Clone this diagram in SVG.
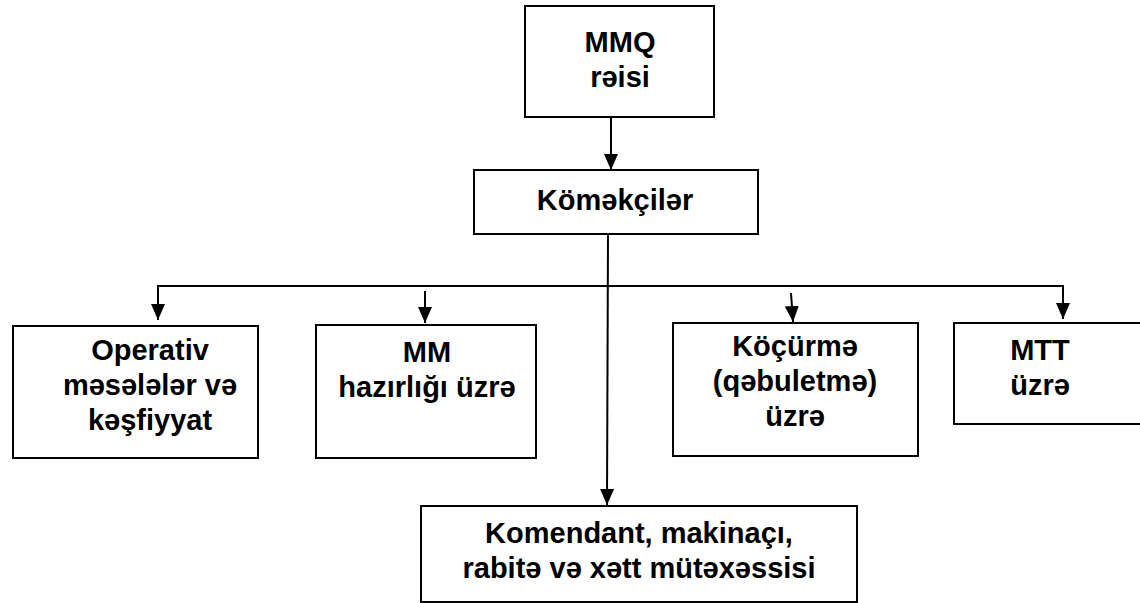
<svg xmlns="http://www.w3.org/2000/svg" width="1140" height="603" viewBox="0 0 1140 603">
<style>
.box{fill:#fff;stroke:#000;stroke-width:2}
.t{font-family:"Liberation Sans",Arial,sans-serif;font-weight:bold;font-size:29px;fill:#000;text-anchor:middle}
.c{fill:none;stroke:#000;stroke-width:2}
</style>
<defs>
<marker id="ah" viewBox="0 0 16 14" refX="16" refY="7" markerWidth="16" markerHeight="14" markerUnits="userSpaceOnUse" orient="auto">
<path d="M0,0 L16,7 L0,14 z" fill="#000"/>
</marker>
</defs>
<rect width="1140" height="603" fill="#fff"/>
<g id="connectors">
<line class="c" x1="611" y1="117" x2="611" y2="170" marker-end="url(#ah)"/>
<line class="c" x1="608" y1="234" x2="607" y2="505" marker-end="url(#ah)"/>
<polyline class="c" points="158,305 158,286 1063,286 1063,305"/>
<line class="c" x1="158" y1="300" x2="158" y2="320" marker-end="url(#ah)"/>
<line class="c" x1="1063" y1="300" x2="1063" y2="319" marker-end="url(#ah)"/>
<line class="c" x1="425" y1="291" x2="425" y2="323" marker-end="url(#ah)"/>
<line class="c" x1="791" y1="293" x2="793" y2="322" marker-end="url(#ah)"/>
</g>
<g id="n-mmq">
<rect class="box" x="525" y="6" width="189" height="111"/>
<text class="t" x="620" y="52">MMQ</text>
<text class="t" x="620" y="87">rəisi</text>
</g>
<g id="n-komekciler">
<rect class="box" x="474" y="170" width="284" height="64"/>
<text class="t" x="615" y="210">Köməkçilər</text>
</g>
<g id="n-operativ">
<rect class="box" x="13" y="326" width="245" height="132"/>
<text class="t" x="150" y="360">Operativ</text>
<text class="t" x="150" y="395">məsələlər və</text>
<text class="t" x="150" y="430">kəşfiyyat</text>
</g>
<g id="n-mm">
<rect class="box" x="316" y="325" width="220" height="133"/>
<text class="t" x="427" y="362">MM</text>
<text class="t" x="427" y="397">hazırlığı üzrə</text>
</g>
<g id="n-kocurme">
<rect class="box" x="673" y="323" width="245" height="133"/>
<text class="t" x="795" y="356">Köçürmə</text>
<text class="t" x="795" y="391">(qəbuletmə)</text>
<text class="t" x="795" y="426">üzrə</text>
</g>
<g id="n-mtt">
<rect class="box" x="954" y="323" width="196" height="101"/>
<text class="t" x="1040" y="360">MTT</text>
<text class="t" x="1040" y="395">üzrə</text>
</g>
<g id="n-komendant">
<rect class="box" x="421" y="506" width="436" height="96"/>
<text class="t" x="639" y="543">Komendant, makinaçı,</text>
<text class="t" x="639" y="578">rabitə və xətt mütəxəssisi</text>
</g>
</svg>
